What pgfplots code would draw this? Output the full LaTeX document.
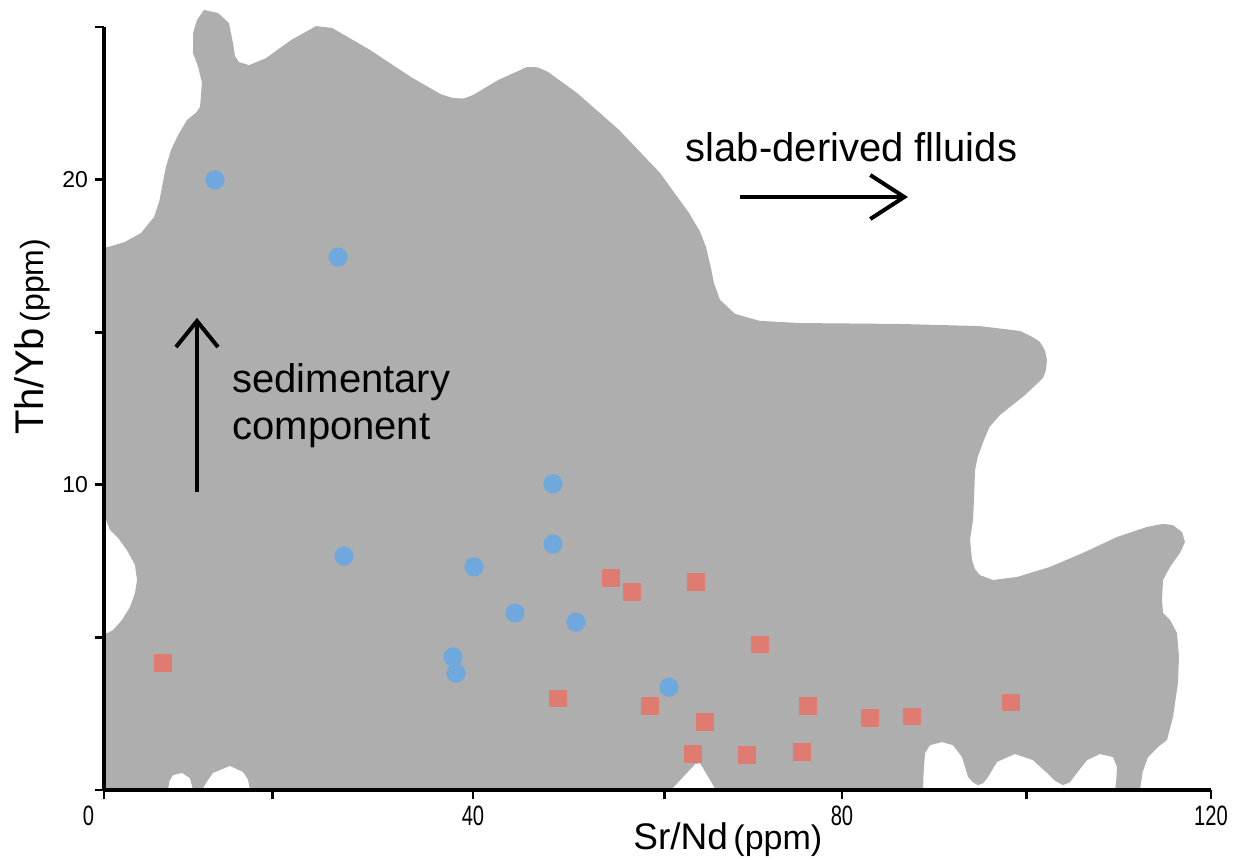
\documentclass[border=0pt]{standalone}
\usepackage{pgfplots}
\pgfplotsset{compat=1.18}
\usepackage{fontspec}
\setmainfont{Liberation Sans}
\usepackage{graphicx}
\usetikzlibrary{arrows.meta}
\definecolor{shapegray}{RGB}{174,174,174}
\definecolor{ptblue}{RGB}{111,168,220}
\definecolor{ptred}{RGB}{224,123,114}
\begin{document}
\begin{tikzpicture}
\useasboundingbox (-52pt,-34.5pt) rectangle (567.5pt,395pt);
\begin{axis}[
  at={(0,0)}, anchor=south west,
  scale only axis, width=553.5pt, height=381.5pt,
  xmin=0, xmax=120, ymin=0, ymax=25,
  clip=false, axis on top,
  axis lines*=left,
  axis line style={line width=1.6pt, black},
  every tick/.style={black, line width=1.4pt},
  tick align=outside, major tick length=4.5pt,
  xtick={0,18.3,40,60.8,80,100,120},
  ytick={0,5,10,15,20,25},
  xticklabels={\makebox[0pt][r]{\scalebox{0.72}[1]{0}\hspace{5pt}},,\scalebox{0.72}[1]{40},,\scalebox{0.72}[1]{80},,\scalebox{0.72}[1]{120}},
  yticklabels={,,10,,20,},
  x tick label style={font=\fontsize{14}{14}\selectfont},
  y tick label style={font=\fontsize{11.5}{12}\selectfont},
  xlabel={{\fontsize{18.5}{19}\selectfont Sr/Nd} {\fontsize{17}{18}\selectfont (ppm)}},
  xlabel style={at={(axis description cs:0.5635,-0.0786)}, anchor=base, inner sep=0pt},
  ylabel={{\fontsize{20}{20}\selectfont Th/Yb} {\fontsize{16}{16}\selectfont (ppm)}},
  ylabel style={at={(axis description cs:-0.065,0.594)}, anchor=center, inner sep=0pt},
]
% grey field
\addplot[fill=shapegray, draw=none] coordinates {
(0,0) (0,5.14) (0.33,5.14) (0.98,5.24) (1.95,5.57) (2.82,6.0) (3.36,6.45) (3.58,6.88)
(3.36,7.37) (2.49,7.86) (1.52,8.26) (0.65,8.52) (0.22,8.85) (0,9.01) (0,17.79)
(0.43,17.79) (2.28,17.96) (4.01,18.25) (5.42,18.77) (6.0,19.3) (6.29,19.76) (6.7,20.4) (7.26,20.97) (8.1,21.5) (9.0,21.95)
(10.0,22.2) (10.41,22.38) (10.62,23.17) (10.2,23.7) (9.65,24.15) (9.65,24.80) (10.08,25.23) (10.84,25.56)
(12.36,25.46) (13.55,25.13) (13.98,24.48) (14.2,24.05) (14.63,23.85) (15.72,23.75) (17.56,23.98)
(20.27,24.57) (22.98,25.03) (24.72,24.97) (28.83,24.25) (33.28,23.36) (36.5,22.8) (37.83,22.67)
(39.0,22.66) (40.0,22.77) (42.71,23.26) (45.85,23.69) (47.0,23.68) (48.13,23.53) (51.27,22.84) (55.83,21.63)
(60.27,20.22) (63.41,18.91) (64.6,18.3) (65.26,17.79) (65.8,17.1) (66.12,16.61) (66.78,16.06) (68.4,15.6)
(71.11,15.37) (75.45,15.30) (86.29,15.27) (94.96,15.20) (99.3,15.04) (100.6,14.85) (101.46,14.68)
(102.0,14.4) (102.22,14.09) (102.1,13.75) (101.79,13.5) (99.84,12.94) (97.13,12.29) (96.0,11.9) (95.39,11.47) (94.7,10.9) (94.42,10.48)
(94.31,9.50) (94.2,8.85) (93.88,8.19) (94.09,7.54) (94.4,7.25) (94.96,7.04) (96.37,6.88) (98.97,6.98)
(102.55,7.31) (106.13,7.77) (109.81,8.29) (113.06,8.62) (114.80,8.72) (115.88,8.68)
(116.86,8.45) (117.18,8.13) (116.64,7.77) (115.56,7.31) (114.80,6.88) (114.69,6.23)
(114.80,5.80) (115.56,5.57) (116.32,5.14) (116.53,4.36) (116.42,3.51) (115.88,2.39)
(115.23,1.64) (114.26,1.41) (113.17,1.08) (112.6,0.6) (112.3,0) (109.6,0) (109.75,0.4) (109.81,0.75) (109.38,1.08)
(107.97,1.18) (106.56,0.98) (105.47,0.56) (104.7,0.25) (103.96,0.16) (103.1,0.3) (102.22,0.56) (100.70,0.98)
(98.75,1.18) (96.80,0.92) (95.83,0.43) (95.3,0.22) (94.74,0.16) (94.2,0.25) (93.66,0.43) (93.01,1.08) (92.03,1.47)
(90.84,1.57) (89.54,1.47) (89.0,1.21) (88.85,0.6) (88.78,0) (66.34,0) (64.61,0.88) (64.1,0.85) (63.5,0.66)
(61.46,0) (15.83,0) (15.6,0.35) (15.07,0.59) (13.66,0.79) (11.82,0.56) (11.1,0.25) (10.62,0) (9.65,0) (9.32,0.39)
(8.46,0.56) (7.48,0.49) (7.1,0.3) (6.94,0)
} -- cycle;
% blue circles
\addplot[only marks, mark=*, color=ptblue, mark size=4.6pt] coordinates {
(12.03,19.99) (25.37,17.46) (26.02,7.67) (40.11,7.31) (48.67,10.03) (48.67,8.06)
(44.55,5.80) (51.17,5.50) (37.83,4.36) (38.16,3.83) (61.25,3.37)
};
% red squares
\addplot[only marks, mark=square*, color=ptred, mark size=4.1pt] coordinates {
(6.40,4.16) (54.96,6.95) (57.24,6.49) (64.17,6.82) (71.11,4.78) (49.21,3.01) (59.19,2.75)
(65.15,2.23) (63.85,1.18) (69.70,1.15) (75.66,1.25) (76.31,2.75) (83.04,2.36) (87.59,2.42)
(98.32,2.88)
};
% annotations
\draw[line width=2pt, -{Straight Barb[length=17pt, width=22pt, line width=2pt]}] (axis cs:68.94,19.43) -- (axis cs:87.15,19.43);
\draw[line width=2pt, -{Straight Barb[length=13pt, width=21pt, line width=2pt]}] (axis cs:10.08,9.76) -- (axis cs:10.08,15.47);
\node[anchor=base, inner sep=0pt, font=\fontsize{20}{24}\selectfont] at (axis cs:81.03,20.58) {slab-derived flluids};
\node[anchor=base west, inner sep=0pt, font=\fontsize{20}{24}\selectfont] at (axis cs:13.88,13.01) {sedimentary};
\node[anchor=base west, inner sep=0pt, font=\fontsize{20}{24}\selectfont] at (axis cs:13.88,11.47) {component};
\end{axis}
\end{tikzpicture}
\end{document}
